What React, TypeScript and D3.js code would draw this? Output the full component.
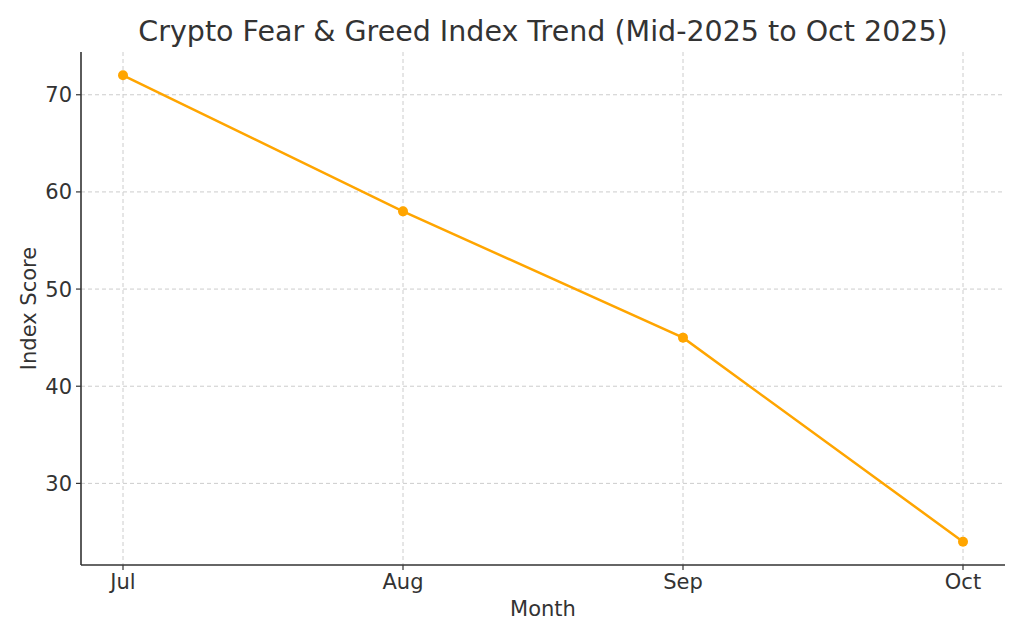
import React from "react";
import * as d3 from "d3";

const months = ["Jul", "Aug", "Sep", "Oct"];
const scores = [72, 58, 45, 24];
const yTicks = [30, 40, 50, 60, 70];

const W = 1024, H = 640;
const L = 81, R = 1005, T = 52, B = 565;
const FONT = "DejaVu Sans, sans-serif";
const TXT = "#333333";

export default function App() {
  const x = d3.scaleLinear().domain([-0.15, 3.15]).range([L, R]);
  const yMin = d3.min(scores)!, yMax = d3.max(scores)!;
  const pad = (yMax - yMin) * 0.05;
  const y = d3.scaleLinear().domain([yMin - pad, yMax + pad]).range([B, T]);
  const line = d3.line<number>().x((_, i) => x(i)).y((d) => y(d));

  return (
    <svg width={W} height={H} style={{ position: "absolute", left: 0, top: 0, background: "#fff" }}>
      <rect width={W} height={H} fill="#fff" />
      {yTicks.map((t) => (
        <line key={"gy" + t} x1={L} x2={R} y1={y(t)} y2={y(t)} stroke="#cccccc" strokeWidth={1} strokeDasharray="4,3" />
      ))}
      {months.map((m, i) => (
        <line key={"gx" + m} x1={x(i)} x2={x(i)} y1={T} y2={B} stroke="#cccccc" strokeWidth={1} strokeDasharray="4,3" />
      ))}
      <path d={line(scores)!} fill="none" stroke="#FFA500" strokeWidth={2.5} />
      {scores.map((s, i) => (
        <circle key={"p" + i} cx={x(i)} cy={y(s)} r={5} fill="#FFA500" />
      ))}
      <line x1={L} x2={L} y1={T} y2={B} stroke={TXT} strokeWidth={1.6} />
      <line x1={L} x2={R} y1={B} y2={B} stroke={TXT} strokeWidth={1.6} />
      {yTicks.map((t) => (
        <g key={"ty" + t}>
          <line x1={L - 5} x2={L} y1={y(t)} y2={y(t)} stroke={TXT} strokeWidth={1.2} />
          <text x={L - 9} y={y(t)} dy="0.36em" textAnchor="end" fontFamily={FONT} fontSize={21} fill={TXT}>{t}</text>
        </g>
      ))}
      {months.map((m, i) => (
        <g key={"tx" + m}>
          <line x1={x(i)} x2={x(i)} y1={B} y2={B + 5} stroke={TXT} strokeWidth={1.2} />
          <text x={x(i)} y={B + 24} textAnchor="middle" fontFamily={FONT} fontSize={21} fill={TXT}>{m}</text>
        </g>
      ))}
      <text x={(L + R) / 2} y={616} textAnchor="middle" fontFamily={FONT} fontSize={21} fill={TXT}>Month</text>
      <text transform={`translate(36,${(T + B) / 2}) rotate(-90)`} textAnchor="middle" fontFamily={FONT} fontSize={21} fill={TXT}>Index Score</text>
      <text x={(L + R) / 2} y={41} textAnchor="middle" fontFamily={FONT} fontSize={28.5} fill={TXT}>Crypto Fear &amp; Greed Index Trend (Mid-2025 to Oct 2025)</text>
    </svg>
  );
}
